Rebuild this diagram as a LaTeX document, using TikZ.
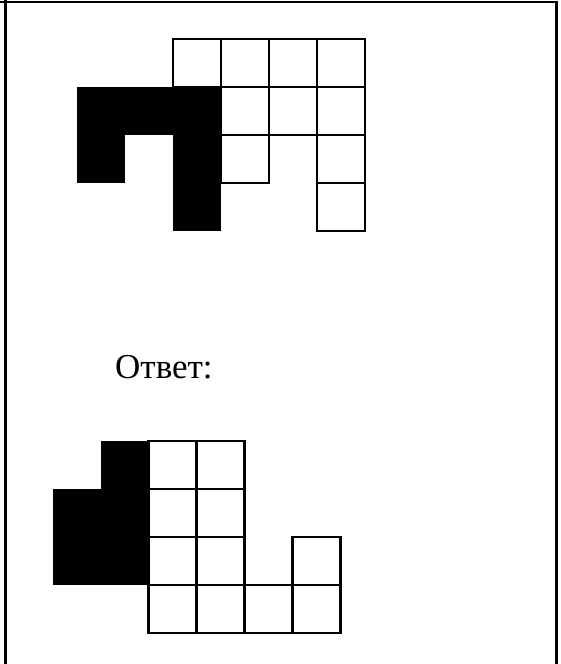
\documentclass[tikz,border=0pt]{standalone}
\usepackage{fontspec}
\setmainfont{Liberation Serif}
\usetikzlibrary{positioning}
\tikzset{
  cell/.style={draw=black,line width=2.4pt,fill=white},
  blk/.style={fill=black},
  frame/.style={line width=2.8pt}
}

\begin{document}
\begin{tikzpicture}[x=1pt,y=-1pt,every node/.style={font=\fontsize{35}{40}\selectfont}]
  \useasboundingbox (0,0) rectangle (561,664);
  % frame
  \draw[frame] (0,2) -- (557.8,2);
  \draw[frame] (5.5,0) -- (5.5,664);
  \draw[frame] (556.5,2) -- (556.5,664);
  % upper figure
  \begin{scope}[shift={(77,39)}]
    \foreach \c/\r in {0/1, 1/1, 2/1, 0/2, 2/2, 2/3} {
      \fill[blk] (\c*48,\r*48) rectangle ++(48,48);
    }
    \foreach \c/\r in {2/0, 3/0, 4/0, 5/0, 3/1, 4/1, 5/1, 3/2, 5/2, 5/3} {
      \draw[cell] (\c*48,\r*48) rectangle ++(48,48);
    }
  \end{scope}
  \node[anchor=base west,inner sep=0pt] (answer) at (115,378) {Ответ:};
  % lower figure
  \begin{scope}[shift={(52.5,441)}]
    \foreach \c/\r in {1/0, 0/1, 1/1, 0/2, 1/2} {
      \fill[blk] (\c*48,\r*48) rectangle ++(48,48);
    }
    \foreach \c/\r in {2/0, 3/0, 2/1, 3/1, 2/2, 3/2, 5/2, 2/3, 3/3, 4/3, 5/3} {
      \draw[cell] (\c*48,\r*48) rectangle ++(48,48);
    }
  \end{scope}
\end{tikzpicture}
\end{document}
